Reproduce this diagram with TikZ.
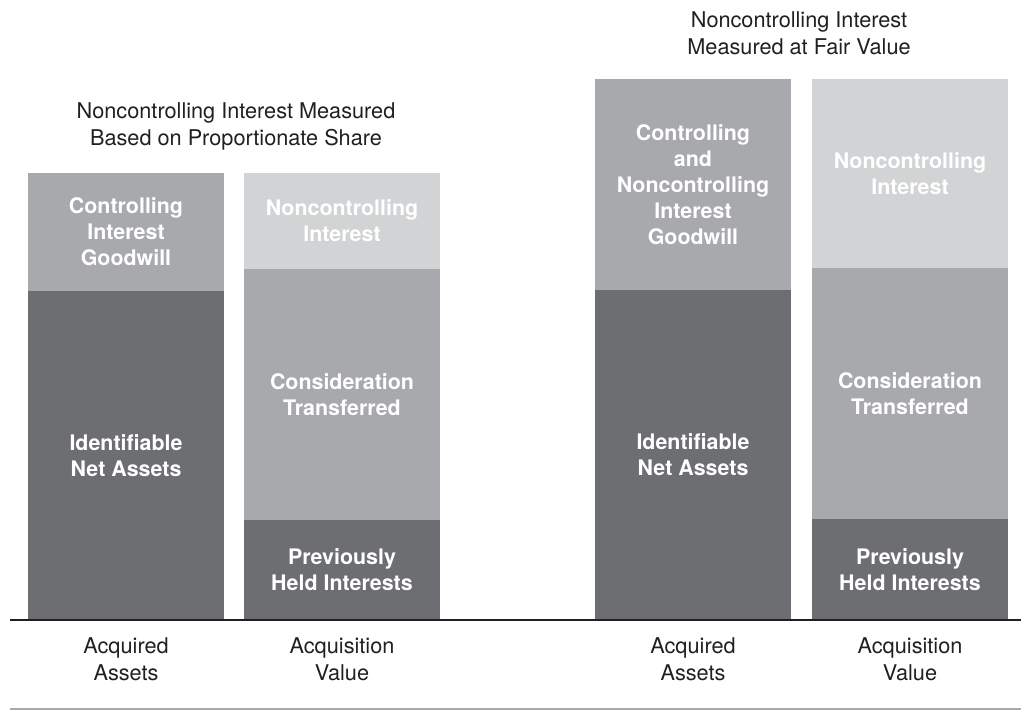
\documentclass[tikz,border=0pt]{standalone}
\usepackage{fontspec}
\setmainfont{TeX Gyre Heros}
\usetikzlibrary{positioning}

\definecolor{darkgrey}{HTML}{6D6E71}
\definecolor{midgrey}{HTML}{A7A9AC}
\definecolor{lightgrey}{HTML}{D1D3D4}
\definecolor{inkblack}{HTML}{231F20}

\tikzset{
  seg/.style={minimum width=196pt, inner sep=0pt, outer sep=0pt, align=center,
    text=white, font=\fontsize{21.4}{26}\selectfont\bfseries},
  caption/.style={align=center, text=inkblack, font=\fontsize{21.7}{26.5}\selectfont}
}

\begin{document}
\begin{tikzpicture}[x=1pt,y=1pt]
\useasboundingbox (0,0) rectangle (1021,711);

% proportionate share
\node[seg, fill=darkgrey, minimum height=329pt, anchor=south west] (ida) at (28,91) {Identifiable\\Net Assets};
\node[seg, fill=midgrey, minimum height=118pt, above=0pt of ida] (cig) {Controlling\\Interest\\Goodwill};
\node[seg, fill=darkgrey, minimum height=100pt, anchor=south west] (phi) at (244,91) {Previously\\Held Interests};
\node[seg, fill=midgrey, minimum height=251pt, above=0pt of phi] (ct) {Consideration\\Transferred};
\node[seg, fill=lightgrey, minimum height=96pt, above=0pt of ct] (nci) {Noncontrolling\\Interest};

% fair value
\node[seg, fill=darkgrey, minimum height=330pt, anchor=south west] (ida2) at (595,91) {Identifiable\\Net Assets};
\node[seg, fill=midgrey, minimum height=211pt, above=0pt of ida2] (cig2) {Controlling\\and\\Noncontrolling\\Interest\\Goodwill};
\node[seg, fill=darkgrey, minimum height=101pt, anchor=south west] (phi2) at (812,91) {Previously\\Held Interests};
\node[seg, fill=midgrey, minimum height=251pt, above=0pt of phi2] (ct2) {Consideration\\Transferred};
\node[seg, fill=lightgrey, minimum height=189pt, above=0pt of ct2] (nci2) {Noncontrolling\\Interest};

\node[caption] (share) at (236,584.5) {Noncontrolling Interest Measured\\Based on Proportionate Share};
\node[caption] (fair) at (799,677.5) {Noncontrolling Interest\\Measured at Fair Value};

\node[caption] (acq) at (126,51.5) {Acquired\\Assets};
\node[caption] (val) at (342,51.5) {Acquisition\\Value};
\node[caption] (acq2) at (693,51.5) {Acquired\\Assets};
\node[caption] (val2) at (910,51.5) {Acquisition\\Value};

\coordinate (base1) at (10,90.5);
\coordinate (base2) at (1021,90.5);
\coordinate (foot1) at (10,1.5);
\coordinate (foot2) at (1021,1.5);
\draw[inkblack, line width=2pt] (base1) -- (base2);
\draw[midgrey, line width=2pt] (foot1) -- (foot2);
\end{tikzpicture}
\end{document}
